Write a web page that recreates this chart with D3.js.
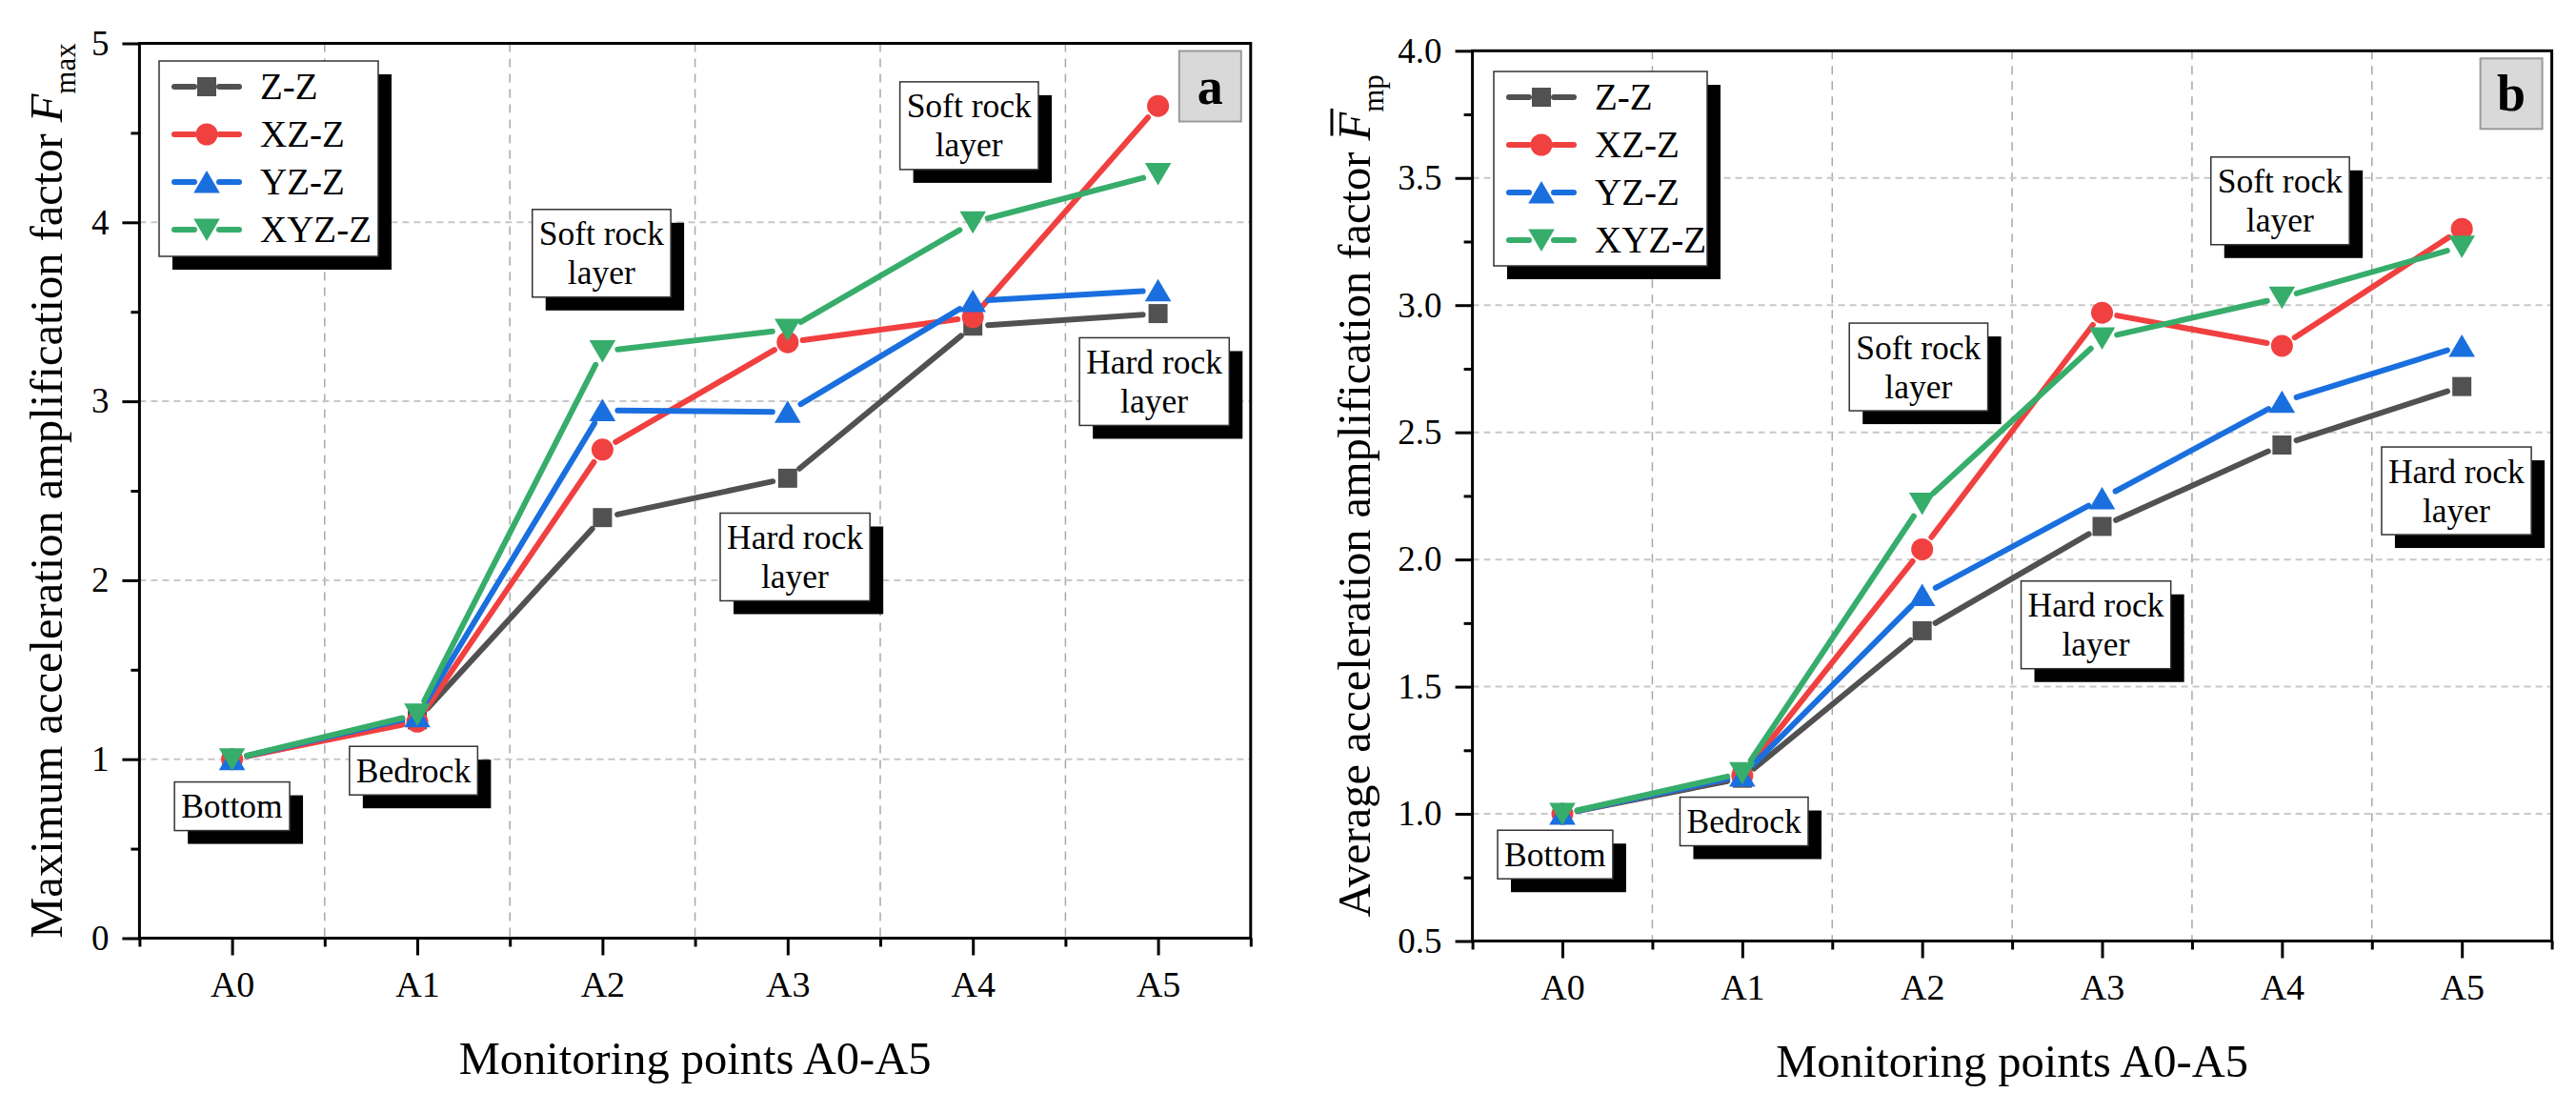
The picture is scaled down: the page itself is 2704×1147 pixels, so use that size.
<!DOCTYPE html>
<html>
<head>
<meta charset="utf-8">
<script src="https://cdn.jsdelivr.net/npm/d3@7"></script>
<style>
    body { margin: 0; background: #fff; }
    svg { display: block; font-family: "Liberation Serif", "Times New Roman", serif; }
</style>
</head>
<body>
<svg id="chart" width="2704" height="1147"></svg>
<script>
// monitoring points on the x axis
const points = ['A0', 'A1', 'A2', 'A3', 'A4', 'A5'];
const seriesNames = ['Z-Z', 'XZ-Z', 'YZ-Z', 'XYZ-Z'];

// panel a: maximum acceleration amplification factor Fmax
const fmaxZZ = [1.00, 1.22, 2.35, 2.57, 3.42, 3.49];
const fmaxXZZ = [1.00, 1.21, 2.73, 3.33, 3.47, 4.65];
const fmaxYZZ = [1.00, 1.24, 2.95, 2.94, 3.56, 3.62];
const fmaxXYZZ = [1.00, 1.25, 3.28, 3.40, 4.00, 4.27];

// panel b: average acceleration amplification factor Fmp
const fmpZZ = [1.00, 1.14, 1.72, 2.13, 2.45, 2.68];
const fmpXZZ = [1.00, 1.15, 2.04, 2.97, 2.84, 3.30];
const fmpYZZ = [1.00, 1.15, 1.86, 2.24, 2.62, 2.84];
const fmpXYZZ = [1.00, 1.16, 2.22, 2.87, 3.03, 3.23];

// y tick labels
const ticksA = [0, 1, 2, 3, 4, 5];
const ticksB = [0.5, 1.0, 1.5, 2.0, 2.5, 3.0, 3.5, 4.0];

// layer notes
const notesA = ['Bottom', 'Bedrock', 'Soft rock|layer', 'Hard rock|layer', 'Soft rock|layer', 'Hard rock|layer'];
const notesB = ['Bottom', 'Bedrock', 'Soft rock|layer', 'Hard rock|layer', 'Soft rock|layer', 'Hard rock|layer'];

const colors = ['#515151', '#F14040', '#1A6FDF', '#37AD6B'];
const shapes = ['square', 'circle', 'up', 'down'];

const panels = [
    {
        label: 'a', left: 146.4, right: 1312.8, top: 45.5, bottom: 984.5,
        yDomain: [0, 5], yTicks: ticksA, yMinorStep: 0.5, fmt: d3.format('d'),
        series: [fmaxZZ, fmaxXZZ, fmaxYZZ, fmaxXYZZ],
        titleText: 'Maximum acceleration amplification factor ', sub: 'max', bar: false, titleX: 65,
        legend: { x: 167, y: 64, w: 230, h: 205 },
        notes: notesA,
        // note box centres, in chart units
        noteAt: [[0.0, 0.737], [0.98, 0.936], [1.995, 3.827], [3.04, 2.13], [3.98, 4.54], [4.98, 3.11]]
    },
    {
        label: 'b', left: 1545.6, right: 2678.6, top: 53.3, bottom: 987.5,
        yDomain: [0.5, 4.0], yTicks: ticksB, yMinorStep: 0.25, fmt: d3.format('.1f'),
        series: [fmpZZ, fmpXZZ, fmpYZZ, fmpXYZZ],
        titleText: 'Average acceleration amplification factor ', sub: 'mp', bar: true, titleX: 1438,
        legend: { x: 1568, y: 75, w: 224, h: 204 },
        notes: notesB,
        noteAt: [[-0.04, 0.84], [1.01, 0.97], [1.98, 2.757], [2.966, 1.743], [3.99, 3.41], [4.97, 2.27]]
    }
];

function markerPath(shape) {
    if (shape === 'square') return 'M-10,-10H10V10H-10Z';
    if (shape === 'circle') return d3.symbol(d3.symbolCircle, Math.PI * 11.5 * 11.5)();
    if (shape === 'up') return 'M0,-12L13.8,11.5H-13.8Z';
    return 'M0,12L13.8,-11.5H-13.8Z';
}

// line pieces between markers, cut back so a gap is left round each symbol
function gappedSegments(pts, gap) {
    let segs = [];
    for (let i = 0; i < pts.length - 1; i++) {
        let [x1, y1] = pts[i];
        let [x2, y2] = pts[i + 1];
        let len = Math.hypot(x2 - x1, y2 - y1);
        if (len <= gap * 2) continue;
        let ux = (x2 - x1) / len, uy = (y2 - y1) / len;
        segs.push([x1 + ux * gap, y1 + uy * gap, x2 - ux * gap, y2 - uy * gap]);
    }
    return segs;
}

function drawPanel(cfg) {
    const svg = d3.select('#chart');
    const g = svg.append('g').attr('class', 'panel-' + cfg.label);

    const x = d3.scaleLinear().domain([-0.5, points.length - 0.5]).range([cfg.left, cfg.right]);
    const y = d3.scaleLinear().domain(cfg.yDomain).range([cfg.bottom, cfg.top]);
    const idx = d3.range(points.length);

    // grid
    g.append('g').selectAll('line')
        .data(idx.slice(0, -1).map(i => i + 0.5))
        .join('line')
        .attr('x1', d => x(d)).attr('x2', d => x(d))
        .attr('y1', cfg.top).attr('y2', cfg.bottom)
        .attr('stroke', '#a8a8a8').attr('stroke-width', 1.5).attr('stroke-dasharray', '9,7');

    g.append('g').selectAll('line')
        .data(cfg.yTicks.slice(1, -1))
        .join('line')
        .attr('x1', cfg.left).attr('x2', cfg.right)
        .attr('y1', d => y(d)).attr('y2', d => y(d))
        .attr('stroke', '#c8c8c8').attr('stroke-width', 2).attr('stroke-dasharray', '7,5');

    // series
    cfg.series.forEach((values, s) => {
        let pts = values.map((v, i) => [x(i), y(v)]);
        let sg = g.append('g').attr('class', 'series');
        sg.selectAll('line')
            .data(gappedSegments(pts, 16))
            .join('line')
            .attr('x1', d => d[0]).attr('y1', d => d[1])
            .attr('x2', d => d[2]).attr('y2', d => d[3])
            .attr('stroke', colors[s]).attr('stroke-width', 6).attr('stroke-linecap', 'round');
        sg.selectAll('path')
            .data(pts)
            .join('path')
            .attr('d', markerPath(shapes[s]))
            .attr('transform', d => `translate(${d[0]},${d[1]})`)
            .attr('fill', colors[s]);
    });

    // layer notes with drop shadow
    cfg.notes.forEach((note, n) => {
        let lines = note.split('|');
        let ng = g.append('g');
        let shadow = ng.append('rect').attr('fill', '#000');
        let box = ng.append('rect').attr('fill', '#fff').attr('stroke', '#333').attr('stroke-width', 1.5);
        let t = ng.append('text').attr('text-anchor', 'middle').style('font-size', '35.5px');
        lines.forEach((l, k) => {
            t.append('tspan').attr('x', 0).attr('dy', k === 0 ? 0 : 41).text(l);
        });
        let bb = t.node().getBBox();
        let padX = 7, padY = 5.5;
        let bw = bb.width + padX * 2, bh = bb.height + padY * 2;
        let bx = bb.x - padX, by = bb.y - padY;
        box.attr('x', bx).attr('y', by).attr('width', bw).attr('height', bh);
        shadow.attr('x', bx + 14).attr('y', by + 14).attr('width', bw).attr('height', bh);
        let [ci, cv] = cfg.noteAt[n];
        ng.attr('transform', `translate(${x(ci) - (bx + bw / 2)},${y(cv) - (by + bh / 2)})`);
    });

    // legend
    let L = cfg.legend;
    let lg = g.append('g').attr('transform', `translate(${L.x},${L.y})`);
    lg.append('rect').attr('x', 14).attr('y', 14).attr('width', L.w).attr('height', L.h).attr('fill', '#000');
    lg.append('rect').attr('width', L.w).attr('height', L.h)
        .attr('fill', '#fff').attr('stroke', '#333').attr('stroke-width', 1.5);
    seriesNames.forEach((name, s) => {
        let ey = 27 + s * 50;
        let row = lg.append('g').attr('transform', `translate(0,${ey})`);
        gappedSegments([[3, 0], [50, 0], [97, 0]], 13).forEach(d => {
            row.append('line')
                .attr('x1', d[0]).attr('y1', d[1]).attr('x2', d[2]).attr('y2', d[3])
                .attr('stroke', colors[s]).attr('stroke-width', 6).attr('stroke-linecap', 'round');
        });
        row.append('path').attr('d', markerPath(shapes[s]))
            .attr('transform', 'translate(50,0)').attr('fill', colors[s]);
        row.append('text').attr('x', 106).attr('dy', '0.34em')
            .style('font-size', '39px').text(name);
    });

    // panel letter
    let px = cfg.right - 10 - 65, py = cfg.top + 8;
    g.append('rect').attr('x', px).attr('y', py).attr('width', 65).attr('height', 74)
        .attr('fill', '#d9d9d9').attr('stroke', '#9a9a9a').attr('stroke-width', 2);
    g.append('text').attr('x', px + 32.5).attr('y', py + 37 + 18)
        .attr('text-anchor', 'middle').style('font-size', '54px').style('font-weight', 'bold')
        .text(cfg.label);

    // frame
    g.append('rect').attr('x', cfg.left).attr('y', cfg.top)
        .attr('width', cfg.right - cfg.left).attr('height', cfg.bottom - cfg.top)
        .attr('fill', 'none').attr('stroke', '#000').attr('stroke-width', 3);

    // axes
    let minorY = d3.range(cfg.yDomain[0], cfg.yDomain[1] + 1e-9, cfg.yMinorStep)
        .filter(v => !cfg.yTicks.some(t => Math.abs(t - v) < 1e-9));
    let styleAxis = (ax, size) => {
        ax.select('.domain').remove();
        ax.attr('font-family', null).attr('font-size', null);
        ax.selectAll('line').attr('stroke-width', 3);
        ax.selectAll('text').style('font-size', size + 'px').attr('fill', '#000');
    };

    g.append('g').attr('transform', `translate(${cfg.left},0)`)
        .call(d3.axisLeft(y).tickValues(cfg.yTicks).tickSize(18).tickPadding(14).tickFormat(cfg.fmt))
        .call(styleAxis, 37);
    g.append('g').attr('transform', `translate(${cfg.left},0)`)
        .call(d3.axisLeft(y).tickValues(minorY).tickSize(9).tickFormat(''))
        .call(styleAxis, 37);

    g.append('g').attr('transform', `translate(0,${cfg.bottom})`)
        .call(d3.axisBottom(x).tickValues(idx).tickSize(18).tickPadding(17).tickFormat(i => points[i]))
        .call(styleAxis, 38);
    g.append('g').attr('transform', `translate(0,${cfg.bottom})`)
        .call(d3.axisBottom(x).tickValues(d3.range(-0.5, points.length, 1)).tickSize(9).tickFormat(''))
        .call(styleAxis, 38);

    // axis titles
    g.append('text')
        .attr('x', (cfg.left + cfg.right) / 2).attr('y', cfg.bottom + 142)
        .attr('text-anchor', 'middle').style('font-size', '48.5px')
        .text('Monitoring points A0-A5');

    let tg = g.append('g')
        .attr('transform', `translate(${cfg.titleX},${(cfg.top + cfg.bottom) / 2}) rotate(-90)`);
    let t = tg.append('text').attr('text-anchor', 'middle').style('font-size', '48.5px');
    t.append('tspan').text(cfg.titleText);
    t.append('tspan').style('font-style', 'italic').text('F');
    t.append('tspan').attr('dy', 14).style('font-size', '31px').text(cfg.sub);
    if (cfg.bar) {
        let e = t.node().getExtentOfChar(cfg.titleText.length);
        tg.append('line')
            .attr('x1', e.x + 5).attr('x2', e.x + e.width + 4)
            .attr('y1', e.y + 3).attr('y2', e.y + 3)
            .attr('stroke', '#000').attr('stroke-width', 3);
    }
}

panels.forEach(drawPanel);
</script>
</body>
</html>
